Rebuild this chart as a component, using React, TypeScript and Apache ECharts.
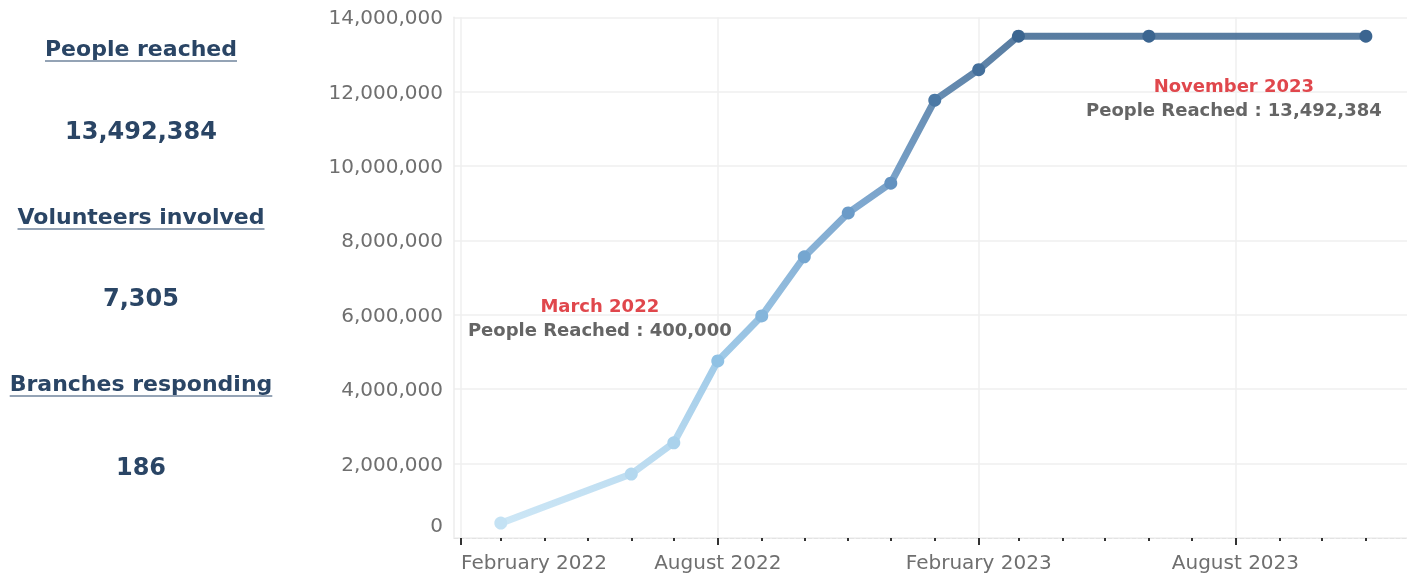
import React, { useEffect, useRef } from 'react';
import * as echarts from 'echarts';

// ---- data ----
const dates = [
  '2022-03-01', '2022-06-01', '2022-07-01', '2022-08-01', '2022-09-01', '2022-10-01',
  '2022-11-01', '2022-12-01', '2023-01-01', '2023-02-01', '2023-03-01', '2023-06-01', '2023-11-01',
];
const reached = [
  400000, 1720000, 2560000, 4760000, 5970000, 7560000,
  8740000, 9540000, 11770000, 12590000, 13492384, 13492384, 13492384,
];
const statTitles = ['People reached', 'Volunteers involved', 'Branches responding'];
const statValues = ['13,492,384', '7,305', '186'];
const majorTickDates = ['2022-02-01', '2022-08-01', '2023-02-01', '2023-08-01'];
const yTicks = [0, 2000000, 4000000, 6000000, 8000000, 10000000, 12000000, 14000000];
const monthNames = [
  'January', 'February', 'March', 'April', 'May', 'June',
  'July', 'August', 'September', 'October', 'November', 'December',
];
const annotatedIndices = [0, 12];

const FONT = '"DejaVu Sans", sans-serif';
const NAVY = '#2a4565';

function parseLocal(s: string) {
  const [y, m, d] = s.split('-').map(Number);
  return new Date(y, m - 1, d).getTime();
}
function monthLabel(ts: number) {
  const d = new Date(ts);
  return `${monthNames[d.getMonth()]} ${d.getFullYear()}`;
}

export default function App() {
  const ref = useRef<HTMLDivElement>(null);
  useEffect(() => {
    if (!ref.current) return;
    const chart = echarts.init(ref.current, undefined, { renderer: 'svg' });

    const xMin = new Date(2022, 0, 27).getTime();
    const xMax = new Date(2023, 10, 30).getTime();
    const majorTicks = majorTickDates.map(parseLocal);
    const monthTicks: number[] = [];
    for (let y = 2022; y <= 2023; y++) {
      for (let m = 0; m < 12; m++) {
        const t = new Date(y, m, 1).getTime();
        if (t >= xMin && t <= xMax) monthTicks.push(t);
      }
    }

    const canvas = document.createElement('canvas');
    const ctx = canvas.getContext('2d')!;
    ctx.font = `bold 22px "DejaVu Sans"`;

    const titleY = [48, 216, 383];
    const valueY = [131, 298, 467];
    const cx = 141;
    const graphics: any[] = [];
    statTitles.forEach((t, i) => {
      const w = ctx.measureText(t).width;
      graphics.push({
        type: 'text', x: cx, y: titleY[i],
        style: { text: t, fontSize: 22, fontWeight: 'bold', fontFamily: FONT, fill: NAVY, align: 'center', verticalAlign: 'middle' },
      });
      graphics.push({
        type: 'line',
        shape: { x1: cx - w / 2, y1: titleY[i] + 13, x2: cx + w / 2, y2: titleY[i] + 13 },
        style: { stroke: '#70849c', lineWidth: 1.5 },
      });
      graphics.push({
        type: 'text', x: cx, y: valueY[i],
        style: { text: statValues[i], fontSize: 24, fontWeight: 'bold', fontFamily: FONT, fill: NAVY, align: 'center', verticalAlign: 'middle' },
      });
    });

    const offsets: Record<number, number[]> = { 0: [99, -206], 12: [-132, 61] };
    const seriesData = dates.map((d, i) => {
      const item: any = { value: [parseLocal(d), reached[i]] };
      if (annotatedIndices.includes(i)) {
        item.label = {
          show: true,
          position: 'inside',
          offset: offsets[i],
          formatter: `{t|${monthLabel(parseLocal(d))}}\n{v|People Reached : ${reached[i].toLocaleString('en-US')}}`,
          rich: {
            t: { color: '#e0474c', fontWeight: 'bold', fontSize: 18, fontFamily: FONT, lineHeight: 24, align: 'center' },
            v: { color: '#656565', fontWeight: 'bold', fontSize: 18, fontFamily: FONT, lineHeight: 24, align: 'center' },
          },
        };
      }
      return item;
    });

    chart.setOption({
      animation: false,
      graphic: graphics,
      grid: { left: 454, right: 0, top: 17.3, bottom: 37 },
      visualMap: {
        show: false,
        type: 'continuous',
        dimension: 1,
        seriesIndex: 0,
        min: reached[0],
        max: reached[reached.length - 1],
        inRange: { color: ['#c4e2f4', '#8fc1e4', '#6797c5', '#3b6590'] },
      },
      xAxis: [
        {
          type: 'value',
          min: xMin,
          max: xMax,
          axisLine: { show: true, lineStyle: { color: '#e3e3e3', type: 'dashed', width: 1 } },
          axisTick: { show: true, customValues: majorTicks, length: 7, lineStyle: { color: '#333', width: 2 } },
          axisLabel: {
            customValues: majorTicks,
            formatter: (v: number) => monthLabel(v),
            alignMinLabel: 'left',
            fontSize: 20, color: '#6f6f6f', fontFamily: FONT, margin: 14,
          },
          splitLine: { show: true, lineStyle: { color: '#efefef', width: 1.5 } },
        },
        {
          type: 'value',
          position: 'bottom',
          min: xMin,
          max: xMax,
          axisLine: { show: false },
          axisTick: { show: true, customValues: monthTicks, length: 3, lineStyle: { color: '#333', width: 2 } },
          axisLabel: { show: false },
          splitLine: { show: false },
        },
      ],
      yAxis: {
        type: 'value',
        min: yTicks[0],
        max: yTicks[yTicks.length - 1],
        interval: yTicks[1] - yTicks[0],
        axisLine: { show: true, lineStyle: { color: '#ececec', width: 1.5 } },
        axisTick: { show: false },
        splitLine: { show: true, lineStyle: { color: '#efefef', width: 1.5 } },
        axisLabel: {
          margin: 11, fontSize: 20, color: '#6f6f6f', fontFamily: FONT,
          formatter: (v: number) => (v === 0 ? '{z|0}' : v.toLocaleString('en-US')),
          rich: { z: { fontSize: 20, color: '#6f6f6f', fontFamily: FONT, padding: [0, 0, 26, 0] } },
        },
      },
      series: [
        {
          type: 'line',
          xAxisIndex: 0,
          data: seriesData,
          symbol: 'circle',
          symbolSize: 13,
          lineStyle: { width: 7, opacity: 0.85 },
          emphasis: { disabled: true },
          z: 5,
        },
      ],
    });
    return () => chart.dispose();
  }, []);
  return <div ref={ref} style={{ position: 'fixed', left: 0, top: 0, width: 1407, height: 575 }} />;
}
